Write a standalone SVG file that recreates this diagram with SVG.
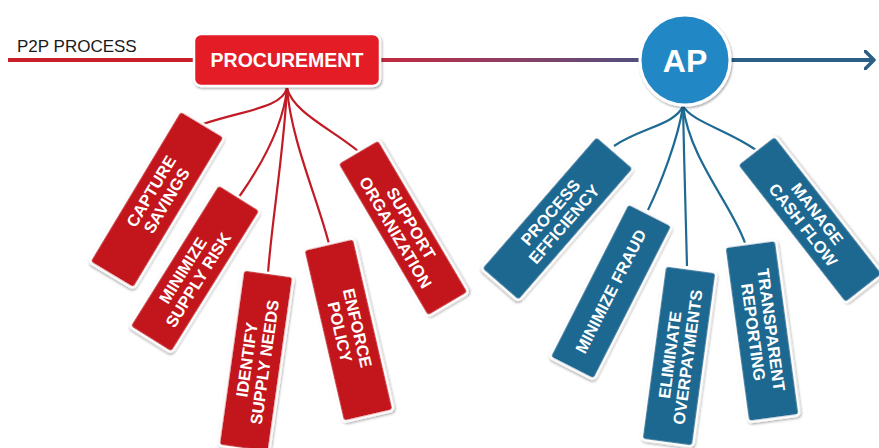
<svg xmlns="http://www.w3.org/2000/svg" width="879" height="448" viewBox="0 0 879 448">
  <defs>
    <linearGradient id="flowGrad" gradientUnits="userSpaceOnUse" x1="380" y1="0" x2="640" y2="0">
      <stop offset="0" stop-color="#c4283f"/>
      <stop offset="0.5" stop-color="#8e3f64"/>
      <stop offset="1" stop-color="#514f7e"/>
    </linearGradient>
    <filter id="shadow" x="-20%" y="-20%" width="140%" height="140%">
      <feDropShadow dx="1" dy="1.5" stdDeviation="1.2" flood-color="#000" flood-opacity="0.35"/>
    </filter>
    <marker id="chevron" viewBox="0 0 12 20" refX="10" refY="10" markerWidth="12" markerHeight="20" markerUnits="userSpaceOnUse" orient="auto">
      <path d="M1,1 L10,10 L1,19" fill="none" stroke="#2c5f86" stroke-width="3.5" stroke-linecap="round" stroke-linejoin="round"/>
    </marker>
  </defs>
  <style>
    .label { font-family: "Liberation Sans", Arial, sans-serif; }
    .tagtext { font-family: "Liberation Sans", Arial, sans-serif; font-weight: bold; font-size: 16.5px; fill: #ffffff; text-anchor: middle; }
    .red .tag { fill: #c3161d; stroke: #ffffff; stroke-width: 2.5; filter: url(#shadow); }
    .blue .tag { fill: #1c6890; stroke: #ffffff; stroke-width: 2.5; filter: url(#shadow); }
    .string-red { fill: none; stroke: #c21b25; stroke-width: 2.2; }
    .string-blue { fill: none; stroke: #1f6a92; stroke-width: 2.2; }
  </style>

  <rect width="879" height="448" fill="#ffffff"/>

  <!-- process timeline -->
  <g id="connectors">
    <line x1="8" y1="60" x2="196" y2="60" stroke="#c8202a" stroke-width="4"/>
    <line x1="378" y1="60" x2="642" y2="60" stroke="url(#flowGrad)" stroke-width="4"/>
    <line x1="728" y1="60" x2="874" y2="60" stroke="#2c5f86" stroke-width="4" marker-end="url(#chevron)"/>

    <!-- strings from PROCUREMENT -->
    <path class="string-red" d="M287,88 C282,108 245,110 203,124"/>
    <path class="string-red" d="M287,88 C283,130 258,170 239,197"/>
    <path class="string-red" d="M287,88 C284,150 272,220 268,273"/>
    <path class="string-red" d="M287,88 C291,140 318,200 329,244"/>
    <path class="string-red" d="M287,88 C293,112 330,128 358,151"/>

    <!-- strings from AP -->
    <path class="string-blue" d="M683,106 C675,125 640,128 614,146"/>
    <path class="string-blue" d="M683,106 C678,140 660,185 648,210"/>
    <path class="string-blue" d="M683,106 C684,160 686,220 687,266"/>
    <path class="string-blue" d="M683,106 C690,160 732,205 745,243"/>
    <path class="string-blue" d="M683,106 C692,122 728,130 756,150"/>
  </g>

  <g id="p2p-label">
    <text class="label" x="17" y="52" font-size="17" fill="#1a1a1a">P2P PROCESS</text>
  </g>

  <g id="procurement">
    <rect x="194" y="34" width="186" height="52" rx="7" fill="#e31d26" stroke="#ffffff" stroke-width="2.5" filter="url(#shadow)"/>
    <text class="label" x="287" y="67" font-size="19.5" font-weight="bold" fill="#ffffff" text-anchor="middle">PROCUREMENT</text>
  </g>

  <g id="ap">
    <circle cx="685" cy="60" r="45" fill="#2488c5" stroke="#ffffff" stroke-width="3" filter="url(#shadow)"/>
    <text class="label" x="685" y="72" font-size="32" font-weight="bold" fill="#ffffff" text-anchor="middle">AP</text>
  </g>

  <!-- procurement goals -->
  <g class="red">
    <g id="capture-savings" transform="translate(157,199.5) rotate(31)">
      <rect class="tag" x="-26" y="-88.5" width="52" height="177" rx="4"/>
      <text class="tagtext" transform="rotate(-90)"><tspan x="4" y="-3.5">CAPTURE</tspan><tspan x="4" y="14.5">SAVINGS</tspan></text>
    </g>
    <g id="minimize-supply-risk" transform="translate(195,268.5) rotate(32)">
      <rect class="tag" x="-25" y="-84" width="50" height="168" rx="4"/>
      <text class="tagtext" transform="rotate(-90)"><tspan x="-8" y="-3.5">MINIMIZE</tspan><tspan x="-8" y="14.5">SUPPLY RISK</tspan></text>
    </g>
    <g id="identify-supply-needs" transform="translate(256,361) rotate(8)">
      <rect class="tag" x="-25.5" y="-89" width="51" height="178" rx="4"/>
      <text class="tagtext" transform="rotate(-90)"><tspan x="0" y="-3.5">IDENTIFY</tspan><tspan x="0" y="14.5">SUPPLY NEEDS</tspan></text>
    </g>
    <g id="enforce-policy" transform="translate(348.5,330) rotate(-13)">
      <rect class="tag" x="-26" y="-88.5" width="52" height="177" rx="4"/>
      <text class="tagtext" transform="rotate(90)"><tspan x="0" y="-3.5">ENFORCE</tspan><tspan x="0" y="14.5">POLICY</tspan></text>
    </g>
    <g id="support-organization" transform="translate(403,228) rotate(-30.5)">
      <rect class="tag" x="-24" y="-89" width="48" height="178" rx="4"/>
      <text class="tagtext" transform="rotate(90)"><tspan x="0" y="-3.5">SUPPORT</tspan><tspan x="0" y="14.5">ORGANIZATION</tspan></text>
    </g>
  </g>

  <!-- accounts payable goals -->
  <g class="blue">
    <g id="process-efficiency" transform="translate(557.5,218.5) rotate(41)">
      <rect class="tag" x="-25" y="-88" width="50" height="176" rx="4"/>
      <text class="tagtext" transform="rotate(-90)"><tspan x="0" y="-3.5">PROCESS</tspan><tspan x="0" y="14.5">EFFICIENCY</tspan></text>
    </g>
    <g id="minimize-fraud" transform="translate(611,291.5) rotate(27)">
      <rect class="tag" x="-25" y="-86.5" width="50" height="173" rx="4"/>
      <text class="tagtext" transform="rotate(-90)"><tspan x="0" y="5.5">MINIMIZE FRAUD</tspan></text>
    </g>
    <g id="eliminate-overpayments" transform="translate(679,356) rotate(7.7)">
      <rect class="tag" x="-26" y="-88" width="52" height="176" rx="4"/>
      <text class="tagtext" transform="rotate(-90)"><tspan x="0" y="-3.5">ELIMINATE</tspan><tspan x="0" y="14.5">OVERPAYMENTS</tspan></text>
    </g>
    <g id="transparent-reporting" transform="translate(762,331) rotate(-7.7)">
      <rect class="tag" x="-26" y="-88.5" width="52" height="177" rx="4"/>
      <text class="tagtext" transform="rotate(90)"><tspan x="0" y="-3.5">TRANSPARENT</tspan><tspan x="0" y="14.5">REPORTING</tspan></text>
    </g>
    <g id="manage-cash-flow" transform="translate(810,219.5) rotate(-38)">
      <rect class="tag" x="-24" y="-88" width="48" height="176" rx="4"/>
      <text class="tagtext" transform="rotate(90)"><tspan x="0" y="-3.5">MANAGE</tspan><tspan x="0" y="14.5">CASH FLOW</tspan></text>
    </g>
  </g>
</svg>
